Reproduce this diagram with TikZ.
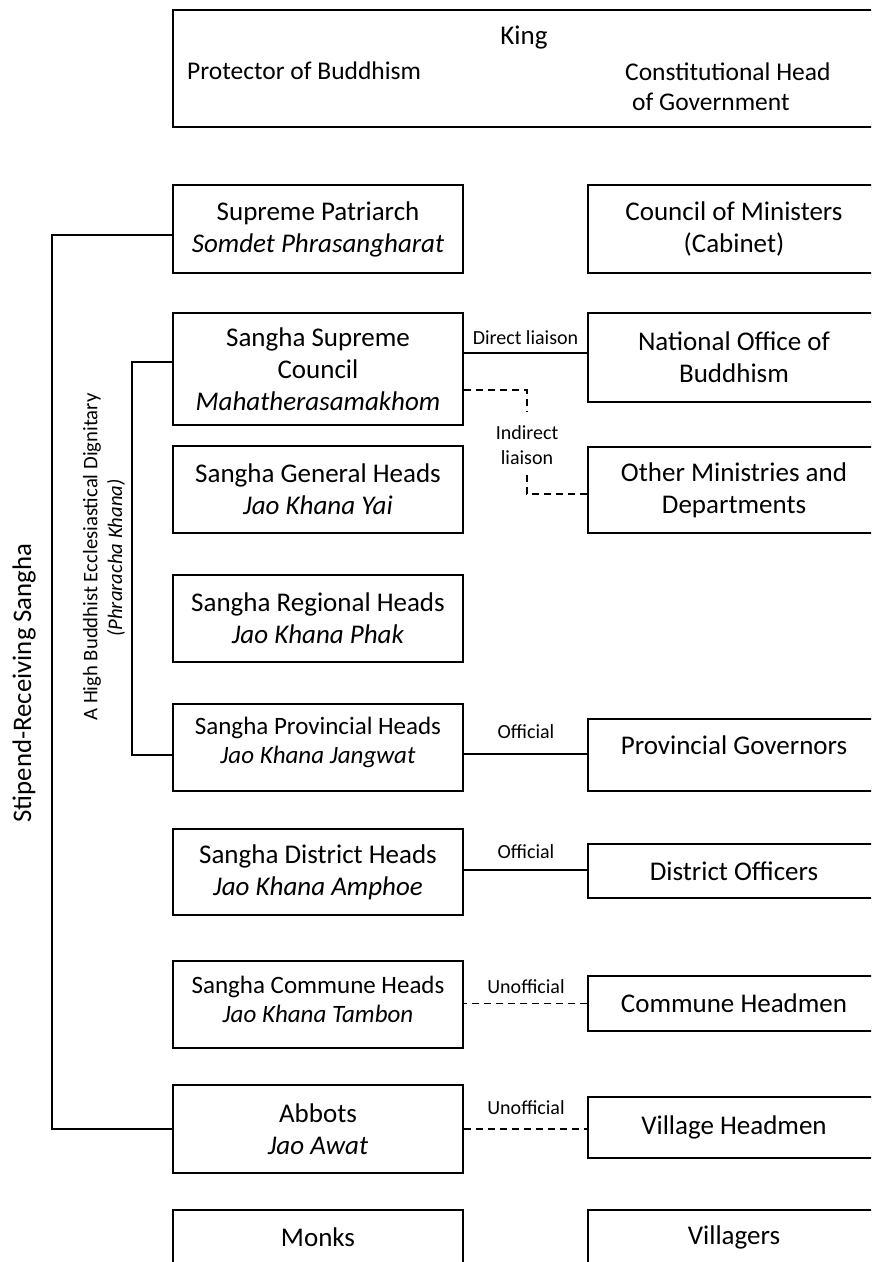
\documentclass[tikz,border=0pt]{standalone}
\usepackage{fontspec}
\setmainfont{Carlito}
\newcommand\bxf{\fontsize{27}{32}\selectfont}
\newcommand\bxs{\fontsize{25}{29}\selectfont}
\newcommand\lblf{\fontsize{20}{25}\selectfont}
\newcommand\vtf{\fontsize{26.8}{30}\selectfont}
\newcommand\vsf{\fontsize{20.7}{24}\selectfont}
\begin{document}
\begin{tikzpicture}[x=1pt,y=-1pt,
  box/.style={draw, line width=2pt, inner sep=0pt, align=center, font=\bxf},
  lbox/.style={box, minimum width=290pt},
  rbox/.style={box, minimum width=292pt},
  conn/.style={line width=1.6pt},
  dsh/.style={conn, dash pattern=on 7pt off 5pt},
  lbl/.style={font=\lblf, inner sep=0pt, align=center},
  txt/.style={inner sep=0pt, font=\bxf}]
\useasboundingbox (0,0) rectangle (871,1262);
\clip (0,0) rectangle (871,1262);
\fill[white] (0,0) rectangle (871,1262);

% King box
\node[box, minimum width=707pt, minimum height=117pt] (king) at (526.5,68.5) {};
\node[txt] (kingt) at (524,38) {King};
\node[txt, anchor=west, font=\fontsize{25.5}{30}\selectfont] (prot) at (187,71) {Protector of Buddhism};
\node[txt, anchor=west, font=\fontsize{25.5}{30}\selectfont] (cons) at (625,72) {Constitutional Head};
\node[txt, anchor=west, font=\fontsize{25.5}{30}\selectfont] (gov) at (632,102) {of Government};

% left column
\node[lbox, minimum height=88pt] (sp) at (318,229) {Supreme Patriarch\\\textit{Somdet Phrasangharat}};
\node[lbox, minimum height=112pt] (ssc) at (318,369) {Sangha Supreme\\Council\\\textit{Mahatherasamakhom}};
\node[lbox, minimum height=87pt] (gh) at (318,489.5) {Sangha General Heads\\\textit{Jao Khana Yai}};
\node[lbox, minimum height=87pt] (rh) at (318,618.5) {Sangha Regional Heads\\\textit{Jao Khana Phak}};
\node[lbox, minimum height=87pt, font=\bxs] (ph) at (318,747.5) {};
\node[txt, font=\bxs, align=center] (pht) at (318,742.5) {Sangha Provincial Heads\\\textit{Jao Khana Jangwat}};
\node[lbox, minimum height=86pt] (dh) at (318,872) {Sangha District Heads\\\textit{Jao Khana Amphoe}};
\node[lbox, minimum height=87pt] (ch) at (318,1004.5) {};
\node[txt, font=\bxs, align=center] (cht) at (318,999) {Sangha Commune Heads\\\textit{Jao Khana Tambon}};
\node[lbox, minimum height=88pt] (ab) at (318,1129) {Abbots\\\textit{Jao Awat}};
\node[lbox, minimum height=87pt] (mk) at (318,1253.5) {};
\node[txt] (mkt) at (318,1237) {Monks};

% right column
\node[rbox, minimum height=88pt] (cm) at (734,229) {Council of Ministers\\(Cabinet)};
\node[rbox, minimum height=89pt] (nob) at (734,357.5) {National Office of\\Buddhism};
\node[rbox, minimum height=86pt] (om) at (734,490) {Other Ministries and\\Departments};
\node[rbox, minimum height=72pt] (pg) at (734,755) {};
\node[txt] (pgt) at (734,745) {Provincial Governors};
\node[rbox, minimum height=54pt] (do) at (734,871) {District Officers};
\node[rbox, minimum height=55pt] (chm) at (734,1003.5) {Commune Headmen};
\node[rbox, minimum height=61pt] (vh) at (734,1127.5) {Village Headmen};
\node[rbox, minimum height=87pt] (vl) at (734,1253.5) {};
\node[txt] (vlt) at (734,1237) {Villagers};

% brackets
\coordinate (ob) at (52,0);
\coordinate (ib) at (132,0);
\draw[conn] ([yshift=-6pt]sp.west) -| (ob |- ab.west) -- (ab.west);
\draw[conn] ([yshift=7pt]ssc.west) -| ([yshift=-7.5pt]ib |- ph.west) -- ([yshift=-7.5pt]ph.west);

% vertical labels
\node[inner sep=0pt, rotate=90, font=\vtf] (stip) at (24,683) {Stipend-Receiving Sangha};
\node[inner sep=0pt, rotate=90, font=\vsf] (dign) at (92,557) {A High Buddhist Ecclesiastical Dignitary};
\node[inner sep=0pt, rotate=90, font=\vsf] (phk) at (116,558) {\textit{(Phraracha Khana)}};

% liaisons
\draw[conn] ([yshift=4.5pt]nob.west) -- ([yshift=4.5pt]nob.west -| ssc.east);
\node[lbl] (dl) at (525.5,338) {Direct liaison};
\coordinate (ita) at (527,412);
\coordinate (itb) at (527,475);
\draw[dsh] ([yshift=-21pt]ssc.east) -| (ita);
\node[lbl] (il) at (527,445.5) {Indirect\\liaison};
\draw[dsh] ([yshift=-4pt]om.west) -| (itb);
\draw[conn] ([yshift=1pt]pg.west) -- ([yshift=1pt]pg.west -| ph.east);
\node[lbl] (o1) at (526,732) {Official};
\draw[conn] ([yshift=1pt]do.west) -- ([yshift=1pt]do.west -| dh.east);
\node[lbl] (o2) at (526,852) {Official};
\draw[dsh] (chm.west) -- (chm.west -| ch.east);
\node[lbl] (u1) at (526,987) {Unofficial};
\draw[dsh] (ab.east) -- (ab.east -| vh.west);
\node[lbl] (u2) at (526,1108) {Unofficial};
\end{tikzpicture}
\end{document}
